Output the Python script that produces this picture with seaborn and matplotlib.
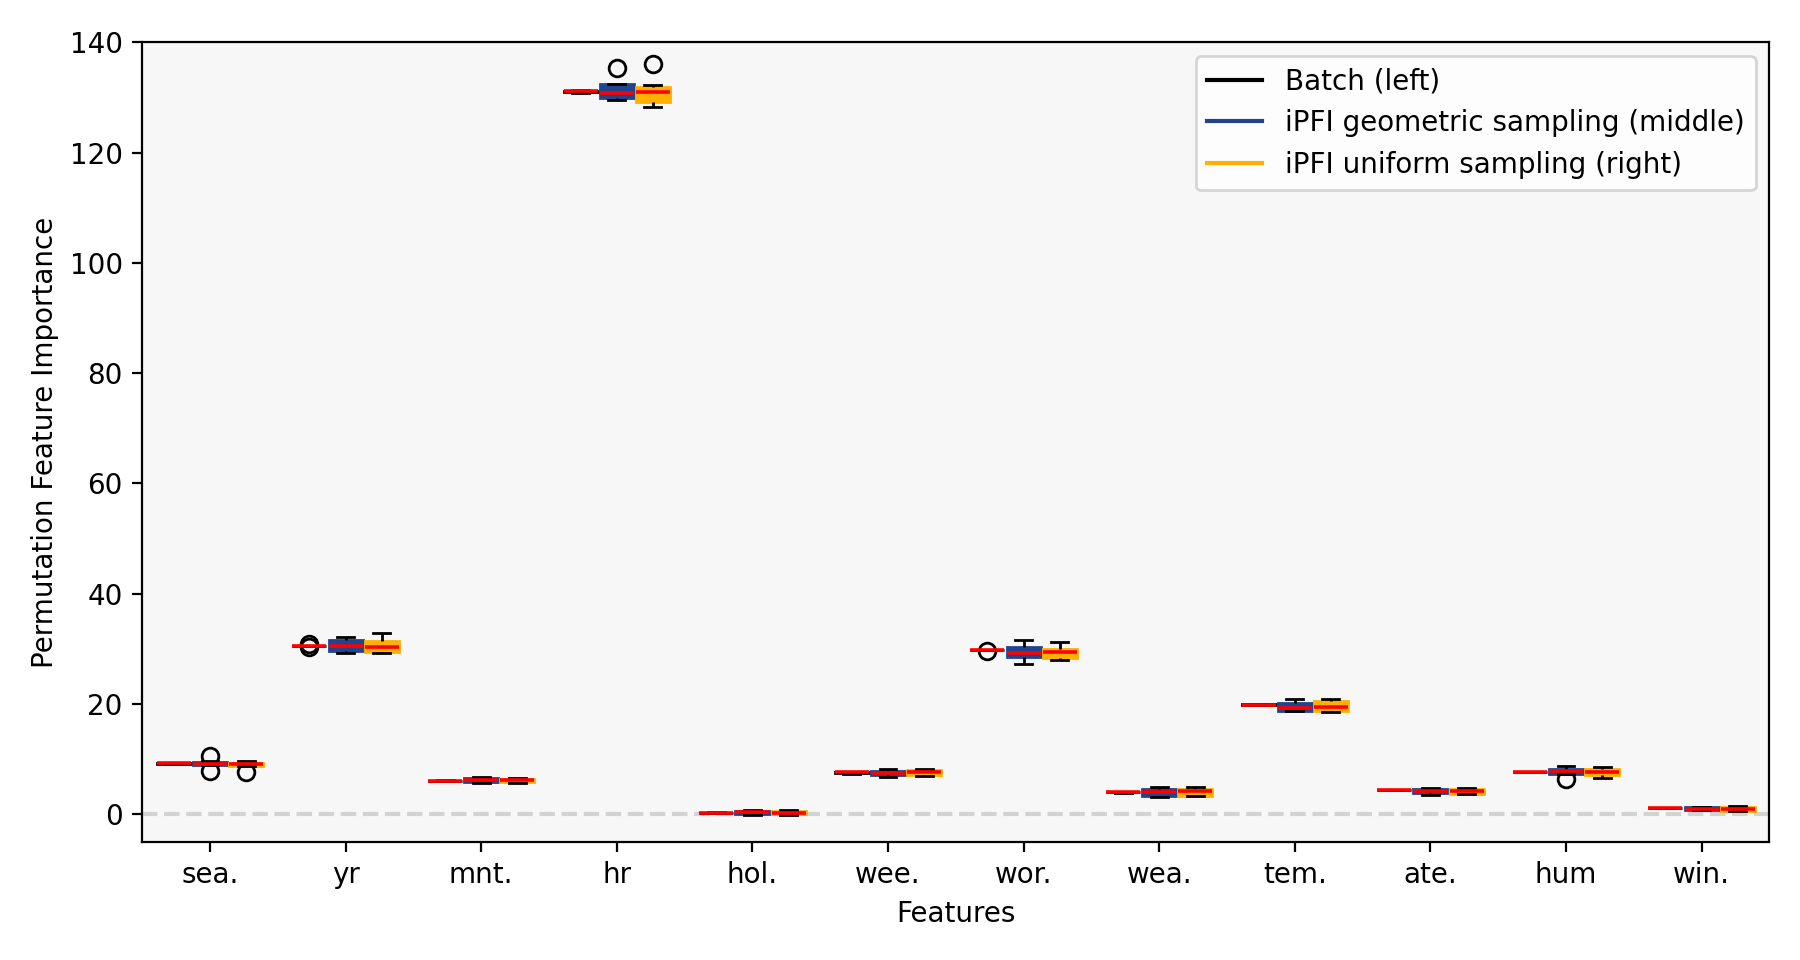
import matplotlib
matplotlib.use("Agg")
import matplotlib.pyplot as plt
from matplotlib.lines import Line2D
import numpy as np
import pandas as pd
import seaborn as sns

features = ["sea.", "yr", "mnt.", "hr", "hol.", "wee.", "wor.", "wea.", "tem.", "ate.", "hum", "win."]
methods = ["Batch (left)", "iPFI geometric sampling (middle)", "iPFI uniform sampling (right)"]
colors = ["#000000", "#21448e", "#ffb000"]

# estimated per-run PFI values, one list per feature
batch_runs = [
    [9.15, 9.2, 9.3, 9.3, 9.35],
    [30.4, 30.6, 30.6, 30.6, 30.6, 30.6, 30.6, 30.6, 30.8],
    [6.05, 6.08, 6.1, 6.12, 6.15],
    [130.85, 130.95, 131.1, 131.2, 131.3],
    [0.25, 0.28, 0.3, 0.32, 0.35],
    [7.4, 7.45, 7.6, 7.65, 7.7],
    [29.6, 29.8, 29.8, 29.8, 29.8],
    [3.95, 3.98, 4.0, 4.02, 4.05],
    [19.85, 19.88, 19.9, 19.92, 19.95],
    [4.35, 4.37, 4.4, 4.42, 4.45],
    [7.6, 7.62, 7.65, 7.68, 7.7],
    [1.12, 1.14, 1.15, 1.16, 1.18],
]
geometric_runs = [
    [7.8, 8.9, 8.95, 9.05, 9.15, 9.3, 9.55, 9.6, 10.6],
    [29.2, 29.7, 30.55, 31.7, 32.2],
    [5.7, 5.8, 6.3, 6.6, 6.7],
    [129.6, 129.7, 129.8, 130.3, 130.8, 131.5, 132.4, 132.45, 135.4],
    [-0.1, 0.0, 0.35, 0.65, 0.8],
    [6.7, 7.05, 7.5, 7.9, 8.2],
    [27.2, 28.45, 29.25, 30.35, 31.7],
    [3.1, 3.4, 4.0, 4.6, 4.9],
    [18.7, 18.7, 19.35, 20.15, 21.0],
    [3.55, 3.8, 4.2, 4.6, 4.75],
    [6.45, 7.4, 7.4, 7.6, 7.8, 8.0, 8.2, 8.5, 8.7],
    [0.7, 0.7, 0.96, 1.4, 1.4],
]
uniform_runs = [
    [7.6, 8.8, 8.8, 8.95, 9.1, 9.2, 9.4, 9.6, 9.75],
    [29.3, 29.4, 30.4, 31.5, 32.8],
    [5.7, 5.8, 6.2, 6.4, 6.55],
    [128.3, 128.8, 129.2, 130.2, 131.0, 131.5, 131.9, 132.3, 136.0],
    [-0.1, 0.0, 0.3, 0.65, 0.8],
    [6.9, 7.05, 7.65, 8.0, 8.2],
    [27.9, 28.4, 29.4, 30.0, 31.2],
    [3.4, 3.4, 4.15, 4.6, 4.9],
    [18.6, 18.7, 19.55, 20.5, 20.9],
    [3.65, 3.65, 4.2, 4.6, 4.75],
    [6.6, 7.05, 7.65, 8.2, 8.5],
    [0.6, 0.65, 1.0, 1.4, 1.5],
]

rows = []
for method, runs in zip(methods, [batch_runs, geometric_runs, uniform_runs]):
    for feat, vals in zip(features, runs):
        for v in vals:
            rows.append((feat, method, v))
df = pd.DataFrame(rows, columns=["Features", "method", "pfi"])

fig, ax = plt.subplots(figsize=(9, 4.8), dpi=200)
ax.set_facecolor("#f7f7f7")
ax.axhline(0, color="lightgrey", ls="--", lw=1.5, zorder=0)

sns.boxplot(
    data=df, x="Features", y="pfi", hue="method",
    order=features, hue_order=methods, palette=colors, saturation=1,
    width=0.8, gap=0.06, whis=1.0,
    linecolor="black", linewidth=1, fliersize=6,
    medianprops=dict(color="red", linewidth=1.3),
    flierprops=dict(marker="o", markerfacecolor="none", markeredgecolor="black"),
    legend=False, ax=ax,
)
for p in ax.patches:
    p.set_edgecolor(p.get_facecolor())

ax.set_xlim(-0.5, len(features) - 0.5)
ax.set_ylim(-5, 140)
ax.set_xlabel("Features")
ax.set_ylabel("Permutation Feature Importance")

handles = [Line2D([0], [0], color=c, lw=1.5) for c in colors]
ax.legend(handles, methods, loc="upper right")

fig.subplots_adjust(left=0.079, right=0.983, top=0.956, bottom=0.123)
fig.savefig("out.png", dpi=200)
